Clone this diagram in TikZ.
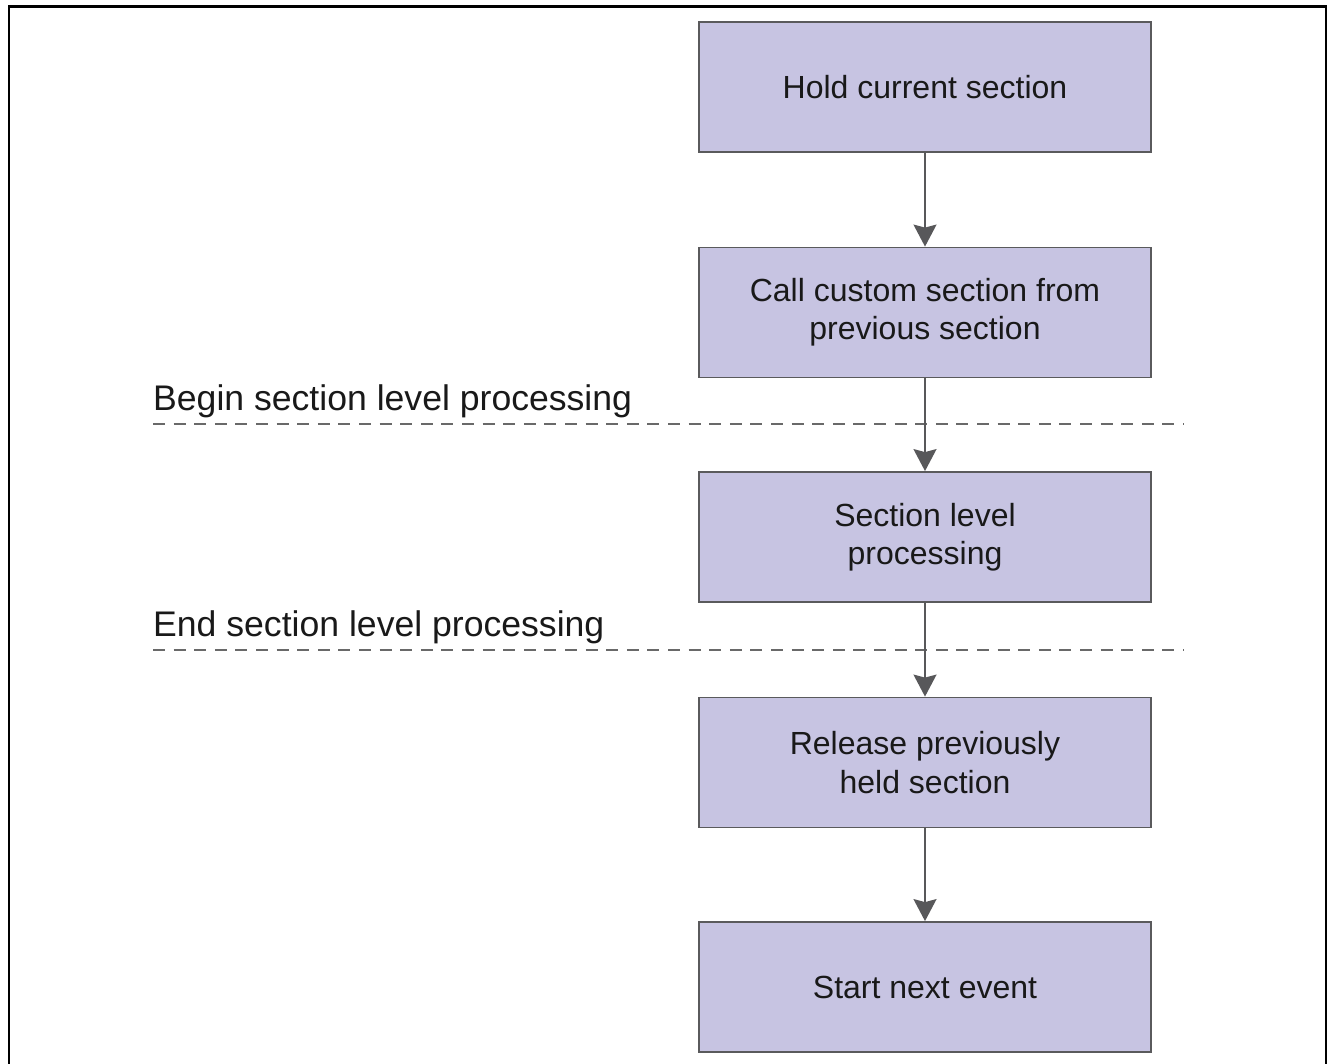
\documentclass[tikz,border=0pt]{standalone}
\usepackage{fontspec}
\setmainfont{Liberation Sans}
\usetikzlibrary{arrows.meta}
\definecolor{boxfill}{RGB}{199,196,226}
\definecolor{boxline}{RGB}{90,90,92}
\definecolor{flowline}{RGB}{88,88,90}
\definecolor{sepline}{RGB}{105,105,105}
\definecolor{txt}{RGB}{25,25,25}
\begin{document}
\begin{tikzpicture}[x=1pt,y=-1pt,
  stepbox/.style={draw=boxline, line width=1.8pt, fill=boxfill,
    minimum width=452pt, minimum height=130pt, inner sep=0pt,
    align=center, text=txt, font=\fontsize{32}{38.4}\selectfont},
  flow/.style={draw=flowline, line width=1.8pt,
    -{Stealth[length=22pt, width=23pt, inset=3pt]}},
  sep/.style={draw=sepline, line width=1.5pt, dash pattern=on 12pt off 8.6pt},
  phase/.style={anchor=base west, inner sep=0pt, text=txt,
    font=\fontsize{35.6}{43}\selectfont}]
\useasboundingbox (0,0) rectangle (1328,1064);
% frame (open at the bottom)
\draw[line width=2.6pt, line cap=rect] (9,1070) -- (9,6.5) -- (1326,6.5) -- (1326,1070);

% process steps
\node[stepbox] (hold)    at (925,87)    {Hold current section};
\node[stepbox] (call)    at (925,312.5) {Call custom section from\\previous section};
\node[stepbox] (proc)    at (925,537)   {Section level\\processing};
\node[stepbox] (release) at (925,762.5) {Release previously\\held section};
\node[stepbox] (next)    at (925,987)   {Start next event};

% phase boundaries
\coordinate (b1) at (153,424);
\coordinate (b2) at (1184,424);
\coordinate (e1) at (153,650);
\coordinate (e2) at (1184,650);
\draw[sep] (b1) -- (b2);
\draw[sep] (e1) -- (e2);
\node[phase] (beginlbl) at (153,410) {Begin section level processing};
\node[phase] (endlbl)   at (153,636) {End section level processing};

% flow
\draw[flow] (hold) -- (call);
\draw[flow] (call) -- (proc);
\draw[flow] (proc) -- (release);
\draw[flow] (release) -- (next);
\end{tikzpicture}
\end{document}
